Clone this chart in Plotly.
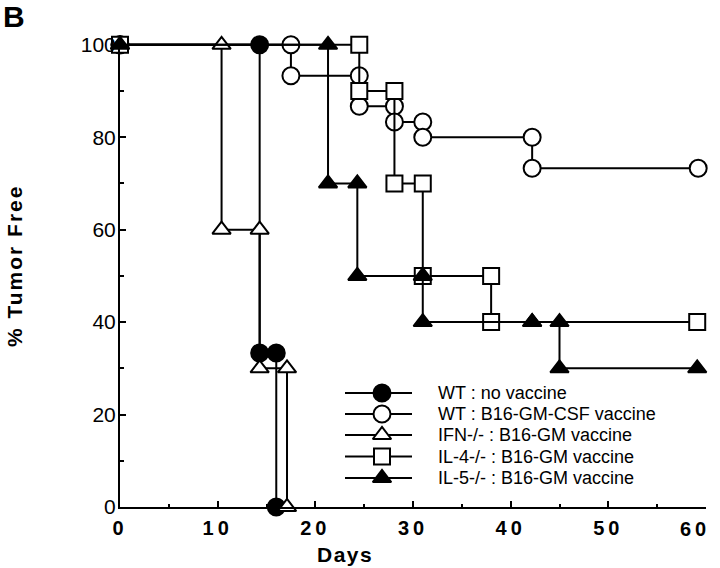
import plotly.graph_objects as go

# ---------------- data ----------------
series_names = [
    "WT : no vaccine",
    "WT : B16-GM-CSF vaccine",
    "IFN-/- : B16-GM vaccine",
    "IL-4-/- : B16-GM vaccine",
    "IL-5-/- : B16-GM vaccine",
]

# event days (survival changes / marked points) and % tumor free after that day
wt_novac_days = [0, 14.3, 16.0]
wt_novac_pct = [100, 33.3, 0]
wt_novac_last = None

wt_gm_days = [0, 17.5, 24.5, 28.1, 31.0, 42.2]
wt_gm_pct = [100, 93.3, 86.7, 83.3, 80.0, 73.3]
wt_gm_last = 59.2

ifn_days = [0, 10.4, 14.3, 17.1]
ifn_pct = [100, 60, 30, 0]
ifn_last = None

il4_days = [0, 24.5, 28.1, 31.0, 38.0]
il4_pct = [100, 90, 70, 50, 40]
il4_last = 59.1

il5_days = [0, 21.3, 24.3, 31.0, 42.2, 45.0]
il5_pct = [100, 70, 50, 40, 40, 30]
il5_last = 59.1

x_ticks = [0, 10, 20, 30, 40, 50, 60]
x_tick_labels = ["0", "10", "20", "30", "40", "50", "60"]
y_ticks = [0, 20, 40, 60, 80, 100]

# ---------------- layout geometry (screen pixels) ----------------
W, H = 720, 568
PL, PR, PT, PB = 120, 706, 42, 507   # plot-area edges


def px(xs):
    return (xs - PL) / (PR - PL)


def py(ys):
    return (PB - ys) / (PB - PT)


FONT = "Liberation Sans, Arial, Helvetica, sans-serif"
styles = [
    dict(symbol="circle", size=17, fill="black"),
    dict(symbol="circle", size=17, fill="white"),
    dict(symbol="triangle-up", size=16, fill="white"),
    dict(symbol="square", size=16, fill="white"),
    dict(symbol="triangle-up", size=16, fill="black"),
]


def km_steps(days, pct, last):
    xs = [days[0]]
    ys = [pct[0]]
    for i in range(1, len(days)):
        xs += [days[i], days[i]]
        ys += [pct[i - 1], pct[i]]
    if last is not None:
        xs.append(last)
        ys.append(pct[-1])
    return xs, ys


series = [
    (wt_novac_days, wt_novac_pct, wt_novac_last),
    (wt_gm_days, wt_gm_pct, wt_gm_last),
    (ifn_days, ifn_pct, ifn_last),
    (il4_days, il4_pct, il4_last),
    (il5_days, il5_pct, il5_last),
]

fig = go.Figure()
for name, (d, p, last), st in zip(series_names, series, styles):
    xs, ys = km_steps(d, p, last)
    fig.add_trace(go.Scatter(
        x=xs, y=ys, name=name, mode="lines+markers",
        line=dict(color="black", width=2),
        marker=dict(symbol=st["symbol"], size=st["size"], color=st["fill"],
                    line=dict(color="black", width=2)),
        cliponaxis=False, showlegend=False,
    ))

# ---------------- custom legend (overlay axes in paper units) ----------------
leg_rows = [393, 414, 435, 456.5, 478]
leg_line_x = [345, 412]
leg_marker_x = 382
leg_text_x = 436

annotations = []
for name, row, st in zip(series_names, leg_rows, styles):
    fig.add_trace(go.Scatter(
        x=[px(v) for v in leg_line_x], y=[py(row), py(row)], mode="lines",
        line=dict(color="black", width=2), xaxis="x2", yaxis="y2",
        showlegend=False, hoverinfo="skip", cliponaxis=False,
    ))
    fig.add_trace(go.Scatter(
        x=[px(leg_marker_x)], y=[py(row)], mode="markers",
        marker=dict(symbol=st["symbol"], size=st["size"], color=st["fill"],
                    line=dict(color="black", width=2)),
        xaxis="x2", yaxis="y2", showlegend=False, hoverinfo="skip",
        cliponaxis=False,
    ))
    annotations.append(dict(
        x=px(leg_text_x), y=py(row), xref="paper", yref="paper", text=name,
        showarrow=False, xanchor="left", yanchor="middle",
        font=dict(size=18, family=FONT, color="black"),
    ))

XTICK_FONT = dict(size=20, family=FONT, color="black", weight="bold")
SPACED = '<span style="letter-spacing:4px">%s</span>'

annotations += [
    # last x tick label sits left of its tick so that it stays inside the figure
    dict(x=px(695), y=py(529), xref="paper", yref="paper",
         text=SPACED % x_tick_labels[-1], showarrow=False,
         xanchor="center", yanchor="middle", font=XTICK_FONT),
    dict(x=px(344.5), y=py(554), xref="paper", yref="paper",
         text='<span style="letter-spacing:1.5px">Days</span>',
         showarrow=False, xanchor="center", yanchor="middle",
         font=dict(size=21, family=FONT, color="black", weight="bold")),
    dict(x=px(14), y=py(266), xref="paper", yref="paper",
         text='<span style="letter-spacing:2px">% Tumor Free</span>',
         textangle=-90, showarrow=False, xanchor="center", yanchor="middle",
         font=dict(size=21, family=FONT, color="black", weight="bold")),
    dict(x=px(14), y=py(16), xref="paper", yref="paper", text="B",
         showarrow=False, xanchor="center", yanchor="middle",
         font=dict(size=30, family=FONT, color="black", weight="bold")),
]

fig.update_layout(
    width=W, height=H,
    margin=dict(l=PL, r=W - PR, t=PT, b=H - PB, autoexpand=False),
    paper_bgcolor="white", plot_bgcolor="white",
    showlegend=False,
    font=dict(family=FONT, color="black"),
    annotations=annotations,
    xaxis=dict(
        range=[0, 60], tickvals=x_ticks,
        ticktext=[SPACED % t for t in x_tick_labels[:-1]] + [""],
        ticks="inside", ticklen=6, tickwidth=2, tickcolor="black",
        showline=True, linewidth=2, linecolor="black",
        showgrid=False, zeroline=False, ticklabeloverflow="allow",
        ticklabelstandoff=2, automargin=False,
        minor=dict(ticks="inside", dtick=5, ticklen=3.5, tickwidth=2,
                   tickcolor="black", showgrid=False),
        tickfont=XTICK_FONT,
    ),
    yaxis=dict(
        range=[0, 100.6], tickvals=y_ticks,
        ticks="inside", ticklen=6, tickwidth=2, tickcolor="black",
        showline=True, linewidth=2, linecolor="black",
        showgrid=False, zeroline=False, ticklabelstandoff=-2,
        automargin=False,
        minor=dict(ticks="inside", dtick=10, ticklen=4, tickwidth=2,
                   tickcolor="black", showgrid=False),
        tickfont=dict(size=21, family=FONT, color="black"),
    ),
    xaxis2=dict(overlaying="x", anchor="y2", range=[0, 1], visible=False),
    yaxis2=dict(overlaying="y", anchor="x2", range=[0, 1], visible=False),
)

# remove the browser's default 8px body margin so the figure fills the window
fig.write_html("out.html", config={"displayModeBar": False},
               post_script="document.body.style.margin='0px';")
